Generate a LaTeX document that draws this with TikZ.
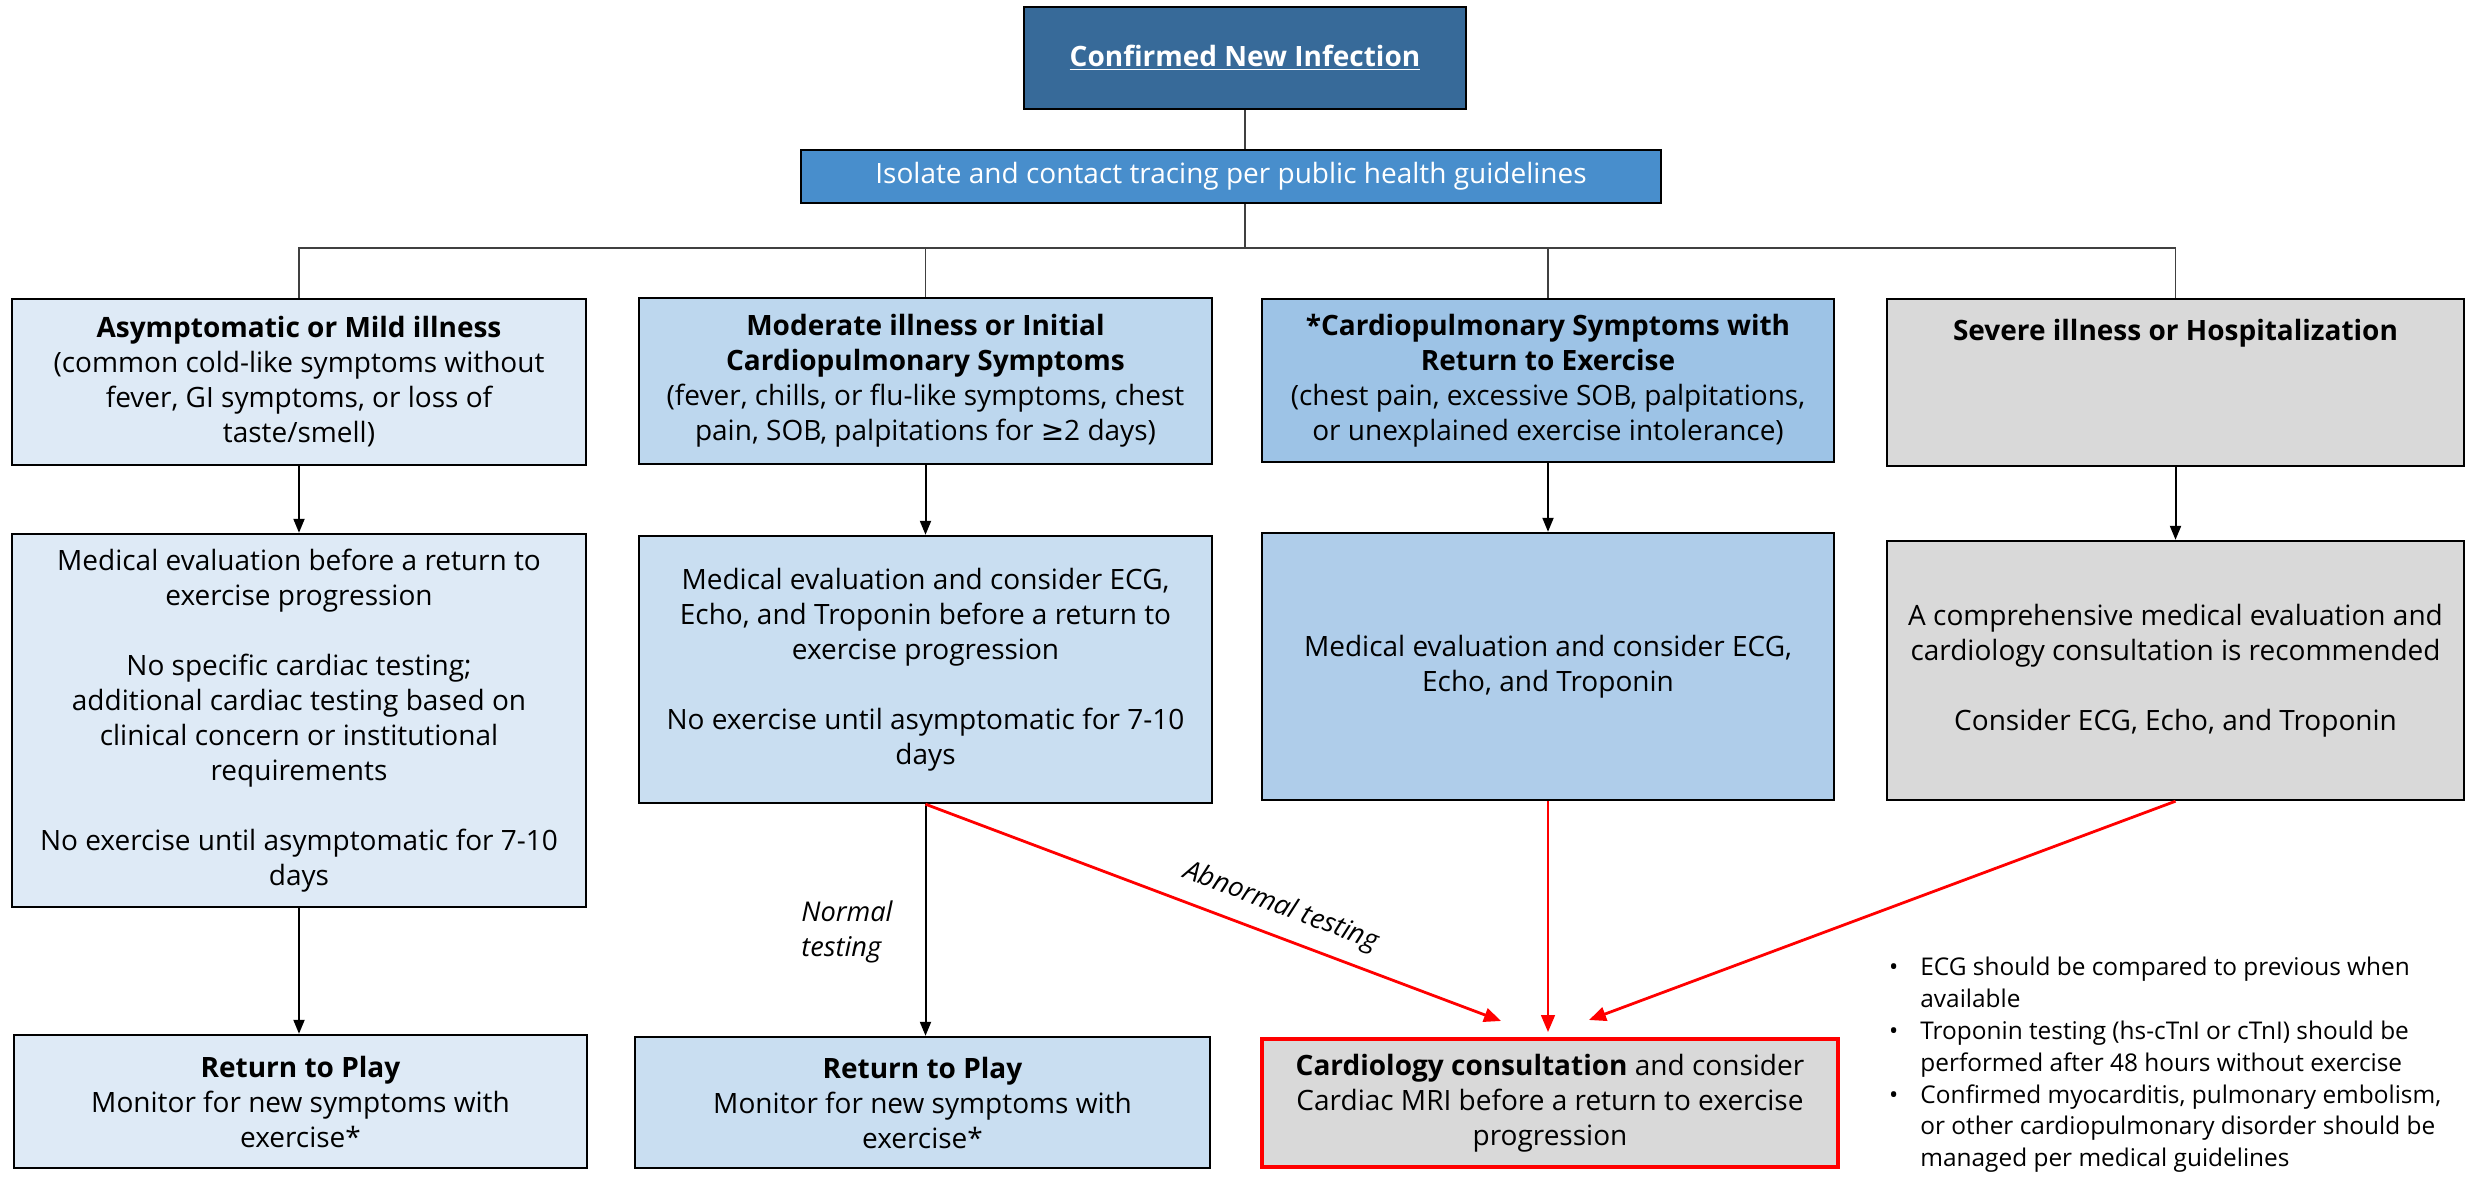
\documentclass[tikz,border=0pt]{standalone}
\usepackage{fontspec}
\setmainfont{Open Sans}
\newfontfamily\symfont{DejaVu Sans}
\usetikzlibrary{arrows.meta}
\definecolor{topblue}{HTML}{376A99}
\definecolor{isoblue}{HTML}{488ECC}
\definecolor{paleA}{HTML}{DEEAF6}
\definecolor{paleB}{HTML}{BDD7EE}
\definecolor{paleBB}{HTML}{C9DEF1}
\definecolor{midC}{HTML}{9DC3E6}
\definecolor{midCC}{HTML}{AFCDEA}
\definecolor{greyD}{HTML}{D9D9D9}
\definecolor{linkred}{HTML}{FF0000}
\begin{document}
\begin{tikzpicture}[x=0.5pt,y=-0.5pt,
  box/.style={draw=black, line width=1.2pt, align=center, inner sep=0pt,
    font=\fontsize{14pt}{17.5pt}\selectfont},
  bus/.style={draw=black!75, line width=0.7pt},
  blackarrow/.style={draw=black, line width=1pt, -{Triangle[length=7pt,width=5.5pt]}},
  redarrow/.style={draw=linkred, line width=1.4pt, -{Triangle[length=8.5pt,width=7pt]}},
  lbl/.style={font=\fontsize{13.6pt}{17.5pt}\selectfont\itshape, inner sep=2pt}
]
\useasboundingbox (0,0) rectangle (2479,1177);

% top
\node[box, fill=topblue, text=white, minimum width=221pt, minimum height=51pt,
  font=\fontsize{14pt}{17.5pt}\selectfont\bfseries] (top) at (1245,58) {\underline{Confirmed New Infection}};
\node[box, fill=isoblue, text=white, minimum width=430pt, minimum height=26.5pt] (iso) at (1231,176.5)
  {Isolate and contact tracing per public health guidelines};

% row 1
\node[box, fill=paleA, minimum width=287pt, minimum height=83pt] (A1) at (299,382)
  {\textbf{Asymptomatic or Mild illness}\\(common cold-like symptoms without\\fever, GI symptoms, or loss of\\taste/smell)};
\node[box, fill=paleB, minimum width=286.5pt, minimum height=83pt] (B1) at (925.5,381)
  {\textbf{Moderate illness or Initial}\\\textbf{Cardiopulmonary Symptoms}\\(fever, chills, or flu-like symptoms, chest\\pain, SOB, palpitations for {\symfont ≥}2 days)};
\node[box, fill=midC, minimum width=286pt, minimum height=81.5pt] (C1) at (1548,380.5)
  {\textbf{*Cardiopulmonary Symptoms with}\\\textbf{Return to Exercise}\\(chest pain, excessive SOB, palpitations,\\or unexplained exercise intolerance)};
\node[box, fill=greyD, minimum width=288.5pt, minimum height=83.5pt] (D1) at (2175.5,382.5)
  {\textbf{Severe illness or Hospitalization}\\\mbox{}\\\mbox{}\\\mbox{}};

% row 2
\node[box, fill=paleA, minimum width=287pt, minimum height=186.5pt] (A2) at (299,720.5)
  {Medical evaluation before a return to\\exercise progression\\[17.5pt]No specific cardiac testing;\\additional cardiac testing based on\\clinical concern or institutional\\requirements\\[17.5pt]No exercise until asymptomatic for 7-10\\days};
\node[box, fill=paleBB, minimum width=286.5pt, minimum height=133.5pt] (B2) at (925.5,669.5)
  {Medical evaluation and consider ECG,\\Echo, and Troponin before a return to\\exercise progression\\[17.5pt]No exercise until asymptomatic for 7-10\\days};
\node[box, fill=midCC, minimum width=286pt, minimum height=133.5pt] (C2) at (1548,666.5)
  {Medical evaluation and consider ECG,\\Echo, and Troponin};
\node[box, fill=greyD, minimum width=288.5pt, minimum height=129.5pt] (D2) at (2175.5,670.5)
  {A comprehensive medical evaluation and\\cardiology consultation is recommended\\[17.5pt]Consider ECG, Echo, and Troponin};

% row 3
\node[box, fill=paleA, minimum width=286.5pt, minimum height=66.5pt] (A3) at (300.5,1101.5)
  {\textbf{Return to Play}\\Monitor for new symptoms with\\exercise*};
\node[box, fill=paleBB, minimum width=287.5pt, minimum height=65.5pt] (B3) at (922.5,1102.5)
  {\textbf{Return to Play}\\Monitor for new symptoms with\\exercise*};
\node[box, fill=greyD, draw=linkred, line width=2pt, minimum width=288pt, minimum height=64pt] (C3) at (1550,1103)
  {\textbf{Cardiology consultation} and consider\\Cardiac MRI before a return to exercise\\progression};

% notes
\node[anchor=north west, align=left, inner sep=0pt, font=\fontsize{12.2pt}{15.9pt}\selectfont] (notes) at (1920,957)
  {\llap{\textbullet\hspace{11pt}}ECG should be compared to previous when\\available\\
   \llap{\textbullet\hspace{11pt}}Troponin testing (hs-cTnI or cTnI) should be\\performed after 48 hours without exercise\\
   \llap{\textbullet\hspace{11pt}}Confirmed myocarditis, pulmonary embolism,\\or other cardiopulmonary disorder should be\\managed per medical guidelines};

% tree connectors
\coordinate (bus) at (1245,248);
\draw[bus] (top.south) -- (top.south |- iso.north);
\draw[bus] (iso.south -| top.south) -- (bus);
\draw[bus] (A1.north) |- (bus) -| (D1.north);
\draw[bus] (B1.north) -- (B1.north |- bus);
\draw[bus] (C1.north) -- (C1.north |- bus);

% black arrows
\draw[blackarrow] (A1.south) -- (A2.north);
\draw[blackarrow] (B1.south) -- (B2.north);
\draw[blackarrow] (C1.south) -- (C2.north);
\draw[blackarrow] (D1.south) -- (D2.north);
\draw[blackarrow] (A2.south) -- (A2.south |- A3.north);
\draw[blackarrow] (B2.south) -- (B2.south |- B3.north);
\node[lbl, anchor=west, align=left] (normal) at (797,932) {Normal\\testing};

% red arrows
\coordinate (t1) at (1501,1021);
\coordinate (t2) at (1548,1032);
\coordinate (t3) at (1589,1020);
\draw[redarrow] (B2.south) -- node[lbl, pos=0.6, sloped, above=5pt] (abn) {Abnormal testing} (t1);
\draw[redarrow, line width=0.8pt] (C2.south) -- (t2);
\draw[redarrow] (D2.south) -- (t3);
\end{tikzpicture}
\end{document}
